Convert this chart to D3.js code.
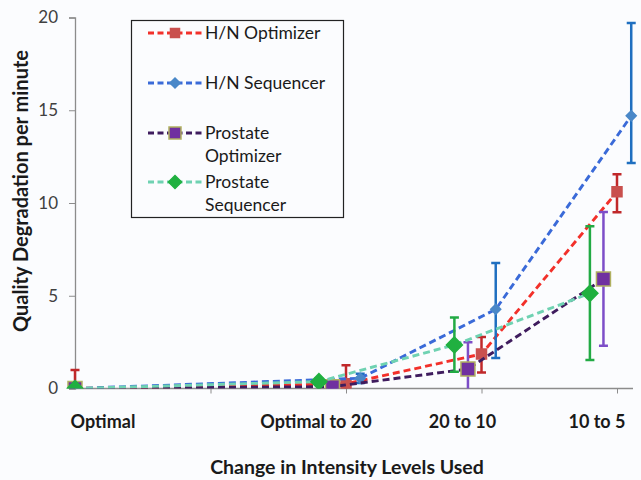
<!DOCTYPE html>
<html><head><meta charset="utf-8">
<script src="https://cdn.jsdelivr.net/npm/d3@7"></script>
<style>
html,body{margin:0;padding:0;background:#fbfcfe;}
svg{display:block;}
text{font-family:Lato,"Open Sans",sans-serif;}
</style></head>
<body>
<svg id="chart" width="641" height="480"></svg>
<script>
// ---- data ----
const categories = ["Optimal", "Optimal to 20", "20 to 10", "10 to 5"];
const seriesNames = ["H/N Optimizer", "H/N Sequencer", "Prostate Optimizer", "Prostate Sequencer"];
const hnOptimizer          = [0, 0.25, 1.86, 10.6];
const hnOptimizerErrUp     = [1.0, 1.0, 0.92, 0.95];
const hnOptimizerErrDown   = [1.0, 1.0, 1.0, 1.1];
const hnSequencer          = [0, 0.55, 4.27, 14.7];
const hnSequencerErrUp     = [0, 0.25, 2.5, 5.0];
const hnSequencerErrDown   = [0, 0.25, 2.62, 2.55];
const prostOptimizer       = [0, 0.1, 1.05, 5.9];
const prostOptimizerErrUp  = [0, 0.1, 1.45, 3.62];
const prostOptimizerErrDown= [0, 0.1, 1.45, 3.6];
const prostSequencer       = [0, 0.37, 2.35, 5.13];
const prostSequencerErrUp  = [0, 0.15, 1.48, 3.62];
const prostSequencerErrDown= [0, 0.15, 1.45, 3.6];
const yTicks = [0, 5, 10, 15, 20];
const xTickValues = [1, 2, 3, 4];
const catPositions = [0, 2, 3, 4];

// ---- styles ----
const styles = [
  {line:"#f2302a", err:"#c0282a", fill:"#c9504e", stroke:"#c9504e", shape:"square", size:10, lsize:9, off:0},
  {line:"#3a6ad8", err:"#1f6fc0", fill:"#4a88c8", stroke:"#4a88c8", shape:"diamond", size:10, lsize:10, off:0.105},
  {line:"#3f1c5e", err:"#7d4ec8", fill:"#7030a0", stroke:"#b0b060", shape:"square", size:14, lsize:12, off:-0.1},
  {line:"#6fd2b2", err:"#22aa44", fill:"#20b040", stroke:"#20b040", shape:"diamond", size:16, lsize:13, off:-0.2}
];
const values = [hnOptimizer, hnSequencer, prostOptimizer, prostSequencer];
const errUp = [hnOptimizerErrUp, hnSequencerErrUp, prostOptimizerErrUp, prostSequencerErrUp];
const errDown = [hnOptimizerErrDown, hnSequencerErrDown, prostOptimizerErrDown, prostSequencerErrDown];

const svg = d3.select("#chart");
const x = d3.scaleLinear().domain([0, 4]).range([75, 617]);
const y = d3.scaleLinear().domain([0, 20]).range([388.5, 17.5]);

// clip for plot
svg.append("defs").append("clipPath").attr("id","plot")
  .append("rect").attr("x",60).attr("y",y(20)-2).attr("width",580).attr("height",y(0)-y(20)+2);

// axes
const yAxis = svg.append("g").attr("transform",`translate(${x(0)},0)`)
  .call(d3.axisLeft(y).tickValues(yTicks).tickSize(6).tickPadding(11));
yAxis.select(".domain").attr("stroke","#8c8c8c").attr("stroke-width",1.3);
yAxis.selectAll(".tick line").attr("stroke","#8c8c8c");
yAxis.selectAll(".tick text").attr("fill","#404040").style("font-size","17px").style("font-family","Lato");

const xAxis = svg.append("g").attr("transform",`translate(0,${y(0)})`)
  .call(d3.axisBottom(x).tickValues(xTickValues).tickSize(5).tickFormat(""));
xAxis.select(".domain").attr("d",`M${x(0)},0H${x(4)+16}`).attr("stroke","#8c8c8c").attr("stroke-width",1.3);
xAxis.selectAll(".tick line").attr("stroke","#8c8c8c");

// category labels
const labelOffsets = [28, -30, -19, -20];
svg.append("g").selectAll("text").data(categories).join("text")
  .attr("x",(d,i)=>x(catPositions[i]) + labelOffsets[i])
  .attr("y",428)
  .attr("text-anchor","middle")
  .attr("font-weight","bold")
  .attr("font-size","18px")
  .attr("fill","#1a1a1a")
  .text(d=>d);

// axis titles
svg.append("text").attr("x",347).attr("y",474).attr("text-anchor","middle")
  .attr("font-weight","bold").attr("font-size","19.5px").attr("fill","#1a1a1a")
  .text("Change in Intensity Levels Used");
svg.append("text").attr("transform","translate(28,191) rotate(-90)").attr("text-anchor","middle")
  .attr("font-weight","bold").attr("font-size","20px").attr("fill","#1a1a1a")
  .text("Quality Degradation per minute");

function markerPath(shape, size){
  const h = size/2;
  if(shape==="square") return `M${-h},${-h}H${h}V${h}H${-h}Z`;
  return `M0,${-h}L${h},0L0,${h}L${-h},0Z`;
}

const plot = svg.append("g").attr("clip-path","url(#plot)");
values.forEach((vals, s)=>{
  const st = styles[s];
  const pts = vals.map((v,i)=>({x: x(catPositions[i] + (i===0?0:st.off)), y: y(v), v, up: errUp[s][i], dn: errDown[s][i]}));
  const g = plot.append("g");
  g.append("path").datum(pts)
    .attr("d", d3.line().x(d=>d.x).y(d=>d.y))
    .attr("fill","none").attr("stroke",st.line).attr("stroke-width",2.9)
    .attr("stroke-dasharray","7,4");
  const eb = g.selectAll(".eb").data(pts.filter(d=>d.up>0)).join("g");
  eb.append("line").attr("x1",d=>d.x).attr("x2",d=>d.x)
    .attr("y1",d=>y(d.v+d.up)).attr("y2",d=>y(d.v-d.dn))
    .attr("stroke",st.err).attr("stroke-width",2.5);
  eb.append("line").attr("x1",d=>d.x-4.5).attr("x2",d=>d.x+4.5)
    .attr("y1",d=>y(d.v+d.up)).attr("y2",d=>y(d.v+d.up))
    .attr("stroke",st.err).attr("stroke-width",2.5);
  eb.append("line").attr("x1",d=>d.x-4.5).attr("x2",d=>d.x+4.5)
    .attr("y1",d=>y(d.v-d.dn)).attr("y2",d=>y(d.v-d.dn))
    .attr("stroke",st.err).attr("stroke-width",2.5);
  g.selectAll(".mk").data(pts).join("path")
    .attr("transform",d=>`translate(${d.x},${d.y})`)
    .attr("d", markerPath(st.shape, st.size))
    .attr("fill",st.fill).attr("stroke",st.stroke).attr("stroke-width",1.5);
});

// legend
const lg = svg.append("g");
lg.append("rect").attr("x",131.5).attr("y",20.5).attr("width",212).attr("height",197)
  .attr("fill","#fbfcfe").attr("stroke","#222").attr("stroke-width",1.2);
const legendRows = [[39],[89],[139,162],[188,211]];
const legendLabels = [["H/N Optimizer"],["H/N Sequencer"],["Prostate","Optimizer"],["Prostate","Sequencer"]];
seriesNames.forEach((name,s)=>{
  const st = styles[s];
  const cy = legendRows[s][0]-6;
  lg.append("line").attr("x1",148).attr("x2",202).attr("y1",cy).attr("y2",cy)
    .attr("stroke",st.line).attr("stroke-width",2.8).attr("stroke-dasharray","6,3.5");
  lg.append("path").attr("transform",`translate(175,${cy})`)
    .attr("d", markerPath(st.shape, st.lsize))
    .attr("fill",st.fill).attr("stroke",st.stroke).attr("stroke-width",1.5);
  legendLabels[s].forEach((t,k)=>{
    lg.append("text").attr("x",205).attr("y",legendRows[s][k])
      .attr("font-size","17.5px").attr("fill","#1a1a1a").text(t);
  });
});
</script>
</body></html>
